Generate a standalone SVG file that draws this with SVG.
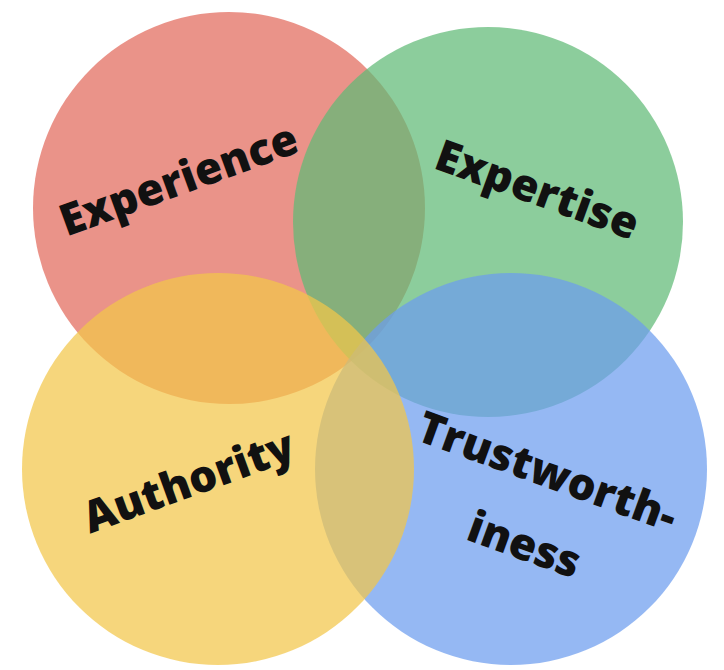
<svg xmlns="http://www.w3.org/2000/svg" width="724" height="670" viewBox="0 0 724 670">
<style>
circle{opacity:0.72}
text{font-family:"Open Sans","DejaVu Sans",sans-serif;font-weight:800;font-size:44px;fill:#111;text-anchor:middle;dominant-baseline:central}
</style>
<rect width="724" height="670" fill="#fff"/>
<g id="red"><circle cx="229" cy="208" r="196" fill="#e26a5c"/></g>
<g id="green"><circle cx="488" cy="222" r="195" fill="#5fba76"/></g>
<g id="blue"><circle cx="511" cy="469" r="196" fill="#6c9cee"/></g>
<g id="yellow"><circle cx="218" cy="469" r="196" fill="#f2c64a"/></g>
<g id="labels">
<text transform="translate(178,178) rotate(-20)">Experience</text>
<text transform="translate(538,188) rotate(20)">Expertise</text>
<text transform="translate(188,480) rotate(-20)">Authority</text>
<text transform="translate(548,470) rotate(20)">Trustworth-</text>
<text transform="translate(525,543) rotate(20)">iness</text>
</g>
</svg>
